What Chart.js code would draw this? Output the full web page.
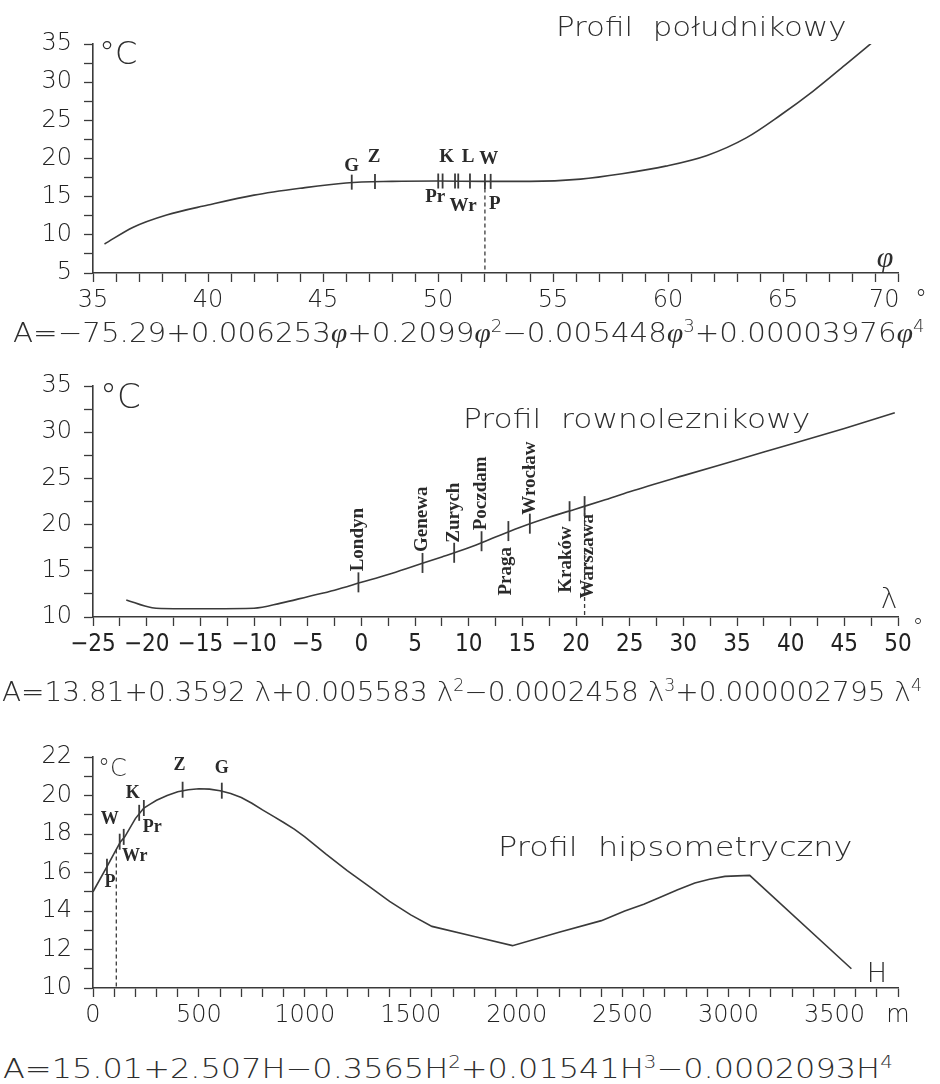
<!DOCTYPE html>
<html lang="pl">
<head>
<meta charset="utf-8">
<title>Profile temperatury</title>
<script src="https://cdn.jsdelivr.net/npm/chart.js@4.4.1/dist/chart.umd.min.js"></script>
<style>
  html, body { margin: 0; padding: 0; background: #fff; }
  body { width: 940px; height: 1084px; position: relative; overflow: hidden;
         font-family: 'DejaVu Sans', sans-serif; color: #2e2e2e; }
  .panel { position: absolute; left: 0; width: 940px; }
  .txt { position: absolute; white-space: pre; line-height: 1; font-weight: 200; }
  .fit { transform-origin: 0 0; }
  .mark { position: absolute; line-height: 1; transform: translate(-50%, -50%); font-weight: 200; }
  sup { font-size: 0.62em; line-height: 0; vertical-align: 0.62em; }
  .it { font-family: 'Liberation Serif', serif; font-style: italic; font-weight: normal; }
</style>
</head>
<body>
<div class="panel" style="top:0;height:320px"><canvas id="merid" width="940" height="320"></canvas></div>
<div class="panel" style="top:340px;height:340px"><canvas id="paral" width="940" height="340"></canvas></div>
<div class="panel" style="top:720px;height:330px"><canvas id="hips" width="940" height="330"></canvas></div>

<div class="txt fit" id="t1" style="left:556px;top:14px;font-size:26px">Profil  południkowy</div>
<div class="txt fit" id="t2" style="left:463px;top:406px;font-size:26px">Profil  rownoleznikowy</div>
<div class="txt fit" id="t3" style="left:498px;top:834px;font-size:26px">Profil  hipsometryczny</div>

<div class="txt" style="left:99px;top:37px;font-size:32px">°C</div>
<div class="txt" style="left:100px;top:379px;font-size:34px">°C</div>
<div class="txt" style="left:98px;top:756px;font-size:24px">°C</div>

<div class="mark it" style="left:885px;top:257px;font-size:30px">φ</div>
<div class="mark" style="left:889px;top:599px;font-size:28px">λ</div>
<div class="mark" style="left:918px;top:627px;font-size:22px">°</div>
<div class="mark" style="left:877px;top:972px;font-size:27px">H</div>

<div class="txt fit" id="f1" style="left:13px;top:319px;font-size:27px">A=−75.29+0.006253<span class="it">φ</span>+0.2099<span class="it">φ</span><sup>2</sup>−0.005448<span class="it">φ</span><sup>3</sup>+0.00003976<span class="it">φ</span><sup>4</sup></div>
<div class="txt fit" id="f2" style="left:2px;top:678px;font-size:27px">A=13.81+0.3592 λ+0.005583 λ<sup>2</sup>−0.0002458 λ<sup>3</sup>+0.000002795 λ<sup>4</sup></div>
<div class="txt fit" id="f3" style="left:3px;top:1055px;font-size:27px">A=15.01+2.507H−0.3565H<sup>2</sup>+0.01541H<sup>3</sup>−0.0002093H<sup>4</sup></div>

<script>
// Profil poludnikowy (latitude)
const phiDeg = [35.5, 36.75, 38.2, 40, 42, 44, 46, 48, 50, 52, 54, 56.2, 58, 59.9, 61.7, 63.4, 64.9, 66.3, 67.8, 69];
const tempPhi = [8.8, 11.0, 12.6, 13.9, 15.2, 16.1, 16.8, 17.0, 17.05, 17.0, 17.0, 17.3, 18.0, 19.0, 20.4, 22.7, 25.7, 28.8, 32.5, 35.5];
const phiStations = ['G', 'Z', 'Pr', 'K', 'Wr', '', 'L', 'P', 'W'];
const phiStationPos = [46.25, 47.26, 50.01, 50.20, 50.74, 50.88, 51.39, 52.04, 52.29];
const phiStationTemp = [16.9, 17.0, 17.05, 17.05, 17.05, 17.05, 17.05, 17.0, 17.0];

// Profil rownoleznikowy (longitude)
const lambdaDeg = [-21.9, -19.5, -17.5, -14, -10, -7.5, -5, -2.5, 0, 2.5, 5, 7.5, 10, 12.5, 15, 17.5, 20, 22.5, 25, 30, 35, 40, 45, 49.7];
const tempLambda = [11.85, 11.0, 10.9, 10.9, 10.95, 11.5, 12.2, 12.9, 13.75, 14.6, 15.55, 16.5, 17.5, 18.65, 19.8, 20.8, 21.7, 22.6, 23.55, 25.3, 27.0, 28.7, 30.4, 32.1];
const lambdaStations = ['Londyn', 'Genewa', 'Zurych', 'Poczdam', 'Praga', 'Wrocław', 'Kraków', 'Warszawa'];
const lambdaStationPos = [-0.27, 5.7, 8.65, 11.2, 13.7, 15.7, 19.4, 20.8];
const lambdaStationTemp = [13.75, 15.85, 16.95, 18.2, 19.3, 20.1, 21.45, 22.0];

// Profil hipsometryczny (altitude)
const heightM = [0, 66, 110, 130, 150, 200, 240, 270, 300, 350, 400, 450, 500, 550, 600, 650, 700, 750, 800, 850, 900, 950, 1000, 1100, 1200, 1300, 1400, 1500, 1600, 1800, 1980, 2200, 2400, 2510, 2600, 2675, 2760, 2841, 2910, 2983, 3100, 3580];
const tempH = [15.0, 16.3, 17.2, 17.6, 17.85, 18.8, 19.35, 19.55, 19.75, 20.0, 20.2, 20.3, 20.35, 20.33, 20.25, 20.1, 19.9, 19.6, 19.25, 18.93, 18.6, 18.25, 17.85, 16.95, 16.1, 15.3, 14.5, 13.8, 13.2, 12.68, 12.2, 12.9, 13.5, 14.0, 14.35, 14.7, 15.1, 15.45, 15.65, 15.8, 15.85, 11.0];
const hStations = ['P', 'W', 'Wr', 'Pr', 'K', 'Z', 'G'];
const hStationPos = [66, 126, 145, 218, 240, 423, 608];
const hStationTemp = [16.3, 17.6, 17.85, 19.1, 19.35, 20.3, 20.25];

const INK = '#3a3a3a';
const tickFont = { family: "'DejaVu Sans', sans-serif", size: 24, weight: '200' };

// label offsets (px) from each station mark
const phiLabelOffsets = [[0, -16], [-1, -24], [-3, 16], [4, -24], [8, 25], null, [-2, -24], [10, 23], [-2, -22]];
const lambdaLabelOffsets = [[0, -11], [0, -11], [0, -10], [0, -11], [-2, 16], [0, -9], [-3, 15], [4, 8]];
const hLabelOffsets = [[3, 16], [-10, -22], [11, 19], [13, 15], [-11, -15], [-3, -24], [0, -22]];

function signed(v) {
    return String(v).replace('-', '−');
}

// station marks, names and the dashed drop line
function stationPlugin(st) {
    return {
        id: 'stations',
        afterDatasetsDraw(chart) {
            const ctx = chart.ctx;
            const sx = chart.scales.x, sy = chart.scales.y;
            ctx.save();
            ctx.strokeStyle = INK;
            ctx.fillStyle = '#2a2a2a';

            const dx0 = sx.getPixelForValue(st.dropAt);
            const dy0 = sy.getPixelForValue(st.dropTemp);
            ctx.setLineDash([4, 3]);
            ctx.lineWidth = 1.3;
            ctx.beginPath();
            ctx.moveTo(dx0, dy0);
            ctx.lineTo(dx0, sy.bottom);
            ctx.stroke();
            ctx.setLineDash([]);

            ctx.lineWidth = 1.8;
            st.pos.forEach((p, i) => {
                const x = sx.getPixelForValue(p), y = sy.getPixelForValue(st.temp[i]);
                ctx.beginPath();
                ctx.moveTo(x, y - st.half);
                ctx.lineTo(x, y + st.half);
                ctx.stroke();
            });

            ctx.font = st.font;
            ctx.textBaseline = 'middle';
            st.names.forEach((name, i) => {
                const off = st.offsets[i];
                if (!name || !off) return;
                const x = sx.getPixelForValue(st.pos[i]) + off[0];
                const y = sy.getPixelForValue(st.temp[i]) + off[1];
                if (st.vertical) {
                    ctx.save();
                    ctx.translate(x, y);
                    ctx.rotate(-Math.PI / 2);
                    ctx.textAlign = off[1] < 0 ? 'left' : 'right';
                    ctx.fillText(name, 0, 0);
                    ctx.restore();
                } else {
                    ctx.textAlign = 'center';
                    ctx.fillText(name, x, y);
                }
            });
            ctx.restore();
        }
    };
}

function makeChart(id, cfg) {
    return new Chart(document.getElementById(id), {
        type: 'line',
        data: {
            datasets: [{
                data: cfg.xs.map((x, i) => ({ x: x, y: cfg.ys[i] })),
                borderColor: INK,
                borderWidth: 1.6,
                pointRadius: 0,
                cubicInterpolationMode: cfg.smooth ? 'monotone' : 'default',
                tension: 0,
                fill: false
            }]
        },
        options: {
            responsive: false,
            animation: false,
            devicePixelRatio: 1,
            layout: { padding: { left: 0, right: 42, top: cfg.top, bottom: 0 } },
            plugins: { legend: { display: false }, tooltip: { enabled: false } },
            scales: {
                x: {
                    type: 'linear',
                    min: cfg.xMin, max: cfg.xMax,
                    afterFit: s => { s.height = cfg.xAxisHeight; },
                    grid: { drawOnChartArea: false, tickLength: 9, color: INK, tickWidth: 1.3 },
                    border: { color: INK, width: 1.6 },
                    ticks: {
                        stepSize: cfg.xStep, autoSkip: false, maxRotation: 0, minRotation: 0,
                        padding: 4, color: '#222', font: cfg.xFont || tickFont,
                        callback: cfg.xLabel
                    }
                },
                y: {
                    min: cfg.yMin, max: cfg.yMax,
                    afterFit: s => { s.width = 93; },
                    grid: { drawOnChartArea: false, tickLength: 9, color: INK, tickWidth: 1.3 },
                    border: { color: INK, width: 1.6 },
                    ticks: {
                        stepSize: cfg.yStep, autoSkip: false, padding: 12, color: '#222', font: tickFont,
                        callback: v => (v % cfg.yLabelEvery === 0 ? v : '')
                    }
                }
            }
        },
        plugins: [stationPlugin(cfg.stations)]
    });
}

makeChart('merid', {
    xs: phiDeg, ys: tempPhi, top: 44, xAxisHeight: 47, smooth: true,
    xMin: 35, xMax: 70, xStep: 1,
    xLabel: v => (v === 70 ? '70  °' : (v % 5 === 0 ? v : '')),
    yMin: 5, yMax: 35, yStep: 2.5, yLabelEvery: 5,
    stations: {
        names: phiStations, pos: phiStationPos, temp: phiStationTemp, offsets: phiLabelOffsets,
        half: 7.5, font: "bold 19px 'Liberation Serif', serif",
        dropAt: phiStationPos[7], dropTemp: phiStationTemp[7]
    }
});

makeChart('paral', {
    xs: lambdaDeg, ys: tempLambda, top: 46, xAxisHeight: 63, smooth: true,
    xMin: -25, xMax: 50, xStep: 2.5,
    xFont: { family: "'DejaVu Sans Condensed', 'DejaVu Sans', sans-serif", size: 24, weight: '200' },
    xLabel: v => (v % 5 === 0 ? signed(v) : ''),
    yMin: 10, yMax: 35, yStep: 2.5, yLabelEvery: 5,
    stations: {
        names: lambdaStations, pos: lambdaStationPos, temp: lambdaStationTemp, offsets: lambdaLabelOffsets,
        half: 10, vertical: true, font: "bold 19px 'Liberation Serif', serif",
        dropAt: lambdaStationPos[7], dropTemp: lambdaStationTemp[7]
    }
});

makeChart('hips', {
    xs: heightM, ys: tempH, top: 37, xAxisHeight: 62, smooth: false,
    xMin: 0, xMax: 3800, xStep: 100,
    xLabel: v => (v === 3800 ? 'm' : (v % 500 === 0 ? v : '')),
    yMin: 10, yMax: 22, yStep: 1, yLabelEvery: 2,
    stations: {
        names: hStations, pos: hStationPos, temp: hStationTemp, offsets: hLabelOffsets,
        half: 8, font: "bold 18px 'Liberation Serif', serif",
        dropAt: 110, dropTemp: 17.2
    }
});

// stretch free text to the widths seen in the figure
const fitWidths = { t1: 291, t2: 347, t3: 354, f1: 912, f2: 920, f3: 890 };
Object.keys(fitWidths).forEach(id => {
    const el = document.getElementById(id);
    const w = el.offsetWidth;
    if (w > 0) el.style.transform = 'scaleX(' + (fitWidths[id] / w).toFixed(3) + ')';
});
</script>
</body>
</html>
